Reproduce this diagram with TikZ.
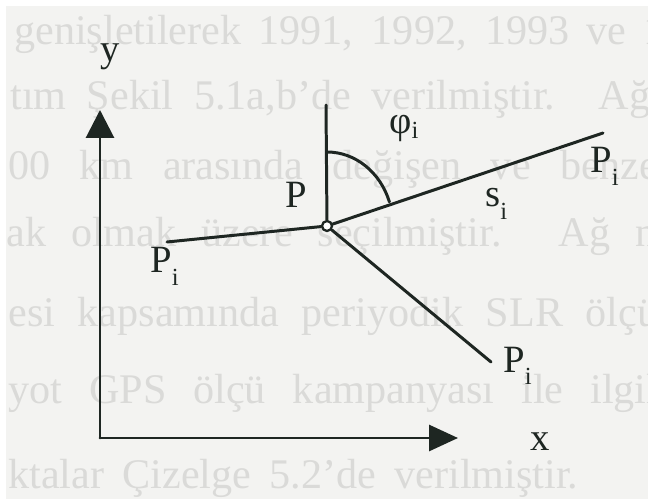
\documentclass[tikz,border=0pt]{standalone}
\usepackage{fontspec}
\setmainfont{Liberation Serif}
\usetikzlibrary{arrows.meta,positioning}
\definecolor{scanInk}{HTML}{1E2622}
\definecolor{scanPaper}{HTML}{F3F3F1}
\definecolor{scanBleed}{HTML}{DADAD8}
\newcommand{\scanLineW}{1.7pt}
\newcommand{\subi}[1][-0.32em]{\raisebox{#1}{\fontsize{14}{14}\selectfont i}}

\begin{document}
\begin{tikzpicture}[x=0.02cm, y=-0.02cm, line cap=round, line join=round,
    font=\fontsize{22}{24}\selectfont]
  % Page frame: 648 x 499 units, y runs downwards
  \useasboundingbox (0,0) rectangle (648,499);
  \fill[white] (0,0) rectangle (648,499);
  \fill[scanPaper] (6,6) rectangle (648,499);

  % --- show-through text of the scanned page ---
  \begin{scope}
    \clip (6,6) rectangle (648,499);
    \foreach \x/\y/\w/\t in {
        14/45/650/{genişletilerek 1991, 1992, 1993 ve 1},
        10/110/640/{tım Şekil 5.1a,b'de verilmiştir. Ağ},
        8/180/650/{00 km arasında değişen ve benze},
        6/247/650/{ak olmak üzere seçilmiştir. Ağ n},
        8/327/650/{esi kapsamında periyodik SLR ölçü},
        8/403/650/{yot GPS ölçü kampanyası ile ilgil},
        8/488/570/{ktalar Çizelge 5.2'de verilmiştir.}} {
      \node[anchor=base west, inner sep=0, text=scanBleed,
            font=\fontsize{24}{24}\selectfont] (bleed\y) at (\x,\y)
        {\makebox[\dimexpr0.02cm*\w\relax][s]{\t}};
    }
  \end{scope}

  % --- coordinate axes ---
  \coordinate (origin) at (100,438);
  \coordinate (yend) at (100,110);
  \coordinate (xend) at (458,438);
  \draw[scanInk, line width=\scanLineW,
        -{Triangle[length=0.56cm,width=0.56cm]}] (origin) -- (yend);
  \draw[scanInk, line width=\scanLineW,
        -{Triangle[length=0.58cm,width=0.52cm]}] (origin) -- (xend);
  \node[scanInk, anchor=base west, inner sep=0] (ylab) at (100,62) {y};
  \node[scanInk, anchor=base west, inner sep=0] (xlab) at (530,450) {x};

  % --- station P and its three rays ---
  \node[circle, draw=scanInk, fill=white, line width=1.3pt,
        inner sep=0pt, minimum size=0.2cm] (P) at (327,226) {};
  \coordinate (north) at (326,105);
  \coordinate (Pright) at (603,133);
  \coordinate (Pleft) at (167,242);
  \coordinate (Plow) at (491,362);
  \draw[scanInk, line width=\scanLineW] (P) -- (north);
  \draw[scanInk, line width=\scanLineW] (P) -- (Pright);
  \draw[scanInk, line width=\scanLineW] (P) -- (Pleft);
  \draw[scanInk, line width=\scanLineW] (P) -- (Plow);

  % azimuth arc from north to the ray P-Pi
  \draw[scanInk, line width=\scanLineW]
    (P.center) ++(-90:74) arc[start angle=-90, end angle=-19,
                              x radius=66, y radius=74];

  % labels
  \node[scanInk, anchor=base west, inner sep=0] (phi) at (389,134) {φ\subi[-0.12em]};
  \node[scanInk, anchor=base west, inner sep=0] (Plab) at (285,208) {P};
  \node[scanInk, anchor=base west, inner sep=0] (slab) at (485,207) {s\subi};
  \node[scanInk, anchor=base west, inner sep=0] (Prightlab) at (590,173) {P\subi};
  \node[scanInk, anchor=base west, inner sep=0] (Pleftlab) at (150,273) {P\subi};
  \node[scanInk, anchor=base west, inner sep=0] (Plowlab) at (503,372) {P\subi};
\end{tikzpicture}
\end{document}
